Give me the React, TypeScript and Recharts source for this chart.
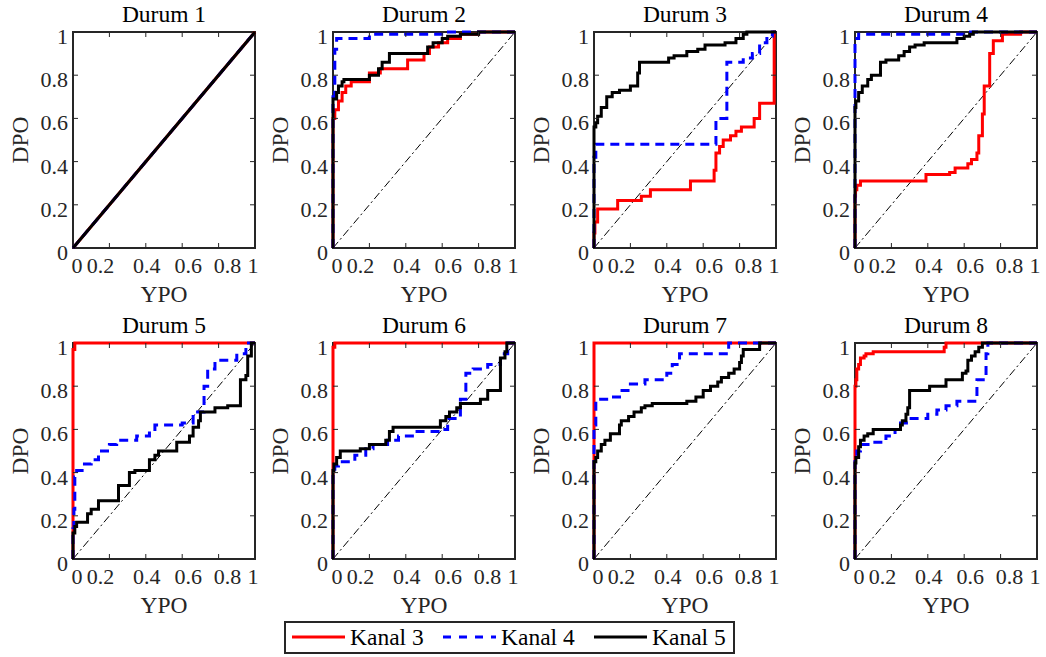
import React from "react";
import { LineChart, Line, XAxis, YAxis, ReferenceArea } from "recharts";

const ticks = [0, 0.2, 0.4, 0.6, 0.8, 1];
const tickLabels = ["0", "0.2", "0.4", "0.6", "0.8", "1"];
const durumTitles = ["Durum 1", "Durum 2", "Durum 3", "Durum 4", "Durum 5", "Durum 6", "Durum 7", "Durum 8"];
const kanalNames = ["Kanal 3", "Kanal 4", "Kanal 5"];
const diagonal = [[0, 0], [1, 1]];

// [YPO, DPO] points, each one is where the curve steps up
const durum1Kanal3 = [[0, 0], [1, 1]];
const durum1Kanal4 = [[0, 0], [1, 1]];
const durum1Kanal5 = [[0, 0], [1, 1]];

const durum2Kanal3 = [[0, 0], [0, 0.6], [0.01, 0.64], [0.03, 0.68], [0.05, 0.72], [0.07, 0.75], [0.1, 0.77], [0.2, 0.81], [0.26, 0.83], [0.41, 0.87], [0.5, 0.9], [0.53, 0.93], [0.58, 0.95], [0.63, 0.97], [0.7, 0.99], [0.8, 1], [1, 1]];
const durum2Kanal4 = [[0, 0], [0, 0.7], [0.01, 0.92], [0.02, 0.97], [0.2, 0.99], [0.62, 1], [1, 1]];
const durum2Kanal5 = [[0, 0], [0, 0.69], [0.02, 0.72], [0.03, 0.75], [0.05, 0.77], [0.06, 0.78], [0.2, 0.8], [0.25, 0.83], [0.27, 0.86], [0.31, 0.9], [0.52, 0.93], [0.55, 0.95], [0.6, 0.97], [0.63, 0.98], [0.7, 0.99], [0.8, 1], [1, 1]];

const durum3Kanal3 = [[0, 0], [0, 0.07], [0.005, 0.12], [0.02, 0.18], [0.13, 0.22], [0.26, 0.24], [0.31, 0.27], [0.53, 0.31], [0.66, 0.36], [0.67, 0.44], [0.69, 0.47], [0.71, 0.5], [0.75, 0.52], [0.78, 0.54], [0.81, 0.56], [0.88, 0.6], [0.91, 0.67], [0.99, 1], [1, 1]];
const durum3Kanal4 = [[0, 0], [0, 0.42], [0.01, 0.48], [0.67, 0.6], [0.73, 0.86], [0.82, 0.88], [0.87, 0.9], [0.91, 0.95], [0.95, 0.98], [0.98, 1], [1, 1]];
const durum3Kanal5 = [[0, 0], [0, 0.56], [0.01, 0.58], [0.02, 0.61], [0.04, 0.65], [0.07, 0.7], [0.1, 0.72], [0.14, 0.73], [0.2, 0.75], [0.24, 0.81], [0.25, 0.86], [0.41, 0.88], [0.44, 0.89], [0.51, 0.91], [0.57, 0.92], [0.61, 0.94], [0.72, 0.95], [0.78, 0.97], [0.82, 0.99], [0.84, 1], [1, 1]];

const durum4Kanal3 = [[0, 0], [0, 0.24], [0.003, 0.27], [0.01, 0.29], [0.03, 0.31], [0.39, 0.34], [0.52, 0.35], [0.55, 0.37], [0.62, 0.39], [0.64, 0.41], [0.67, 0.44], [0.68, 0.52], [0.7, 0.62], [0.71, 0.75], [0.74, 0.9], [0.76, 0.96], [0.81, 0.99], [0.91, 1], [1, 1]];
const durum4Kanal4 = [[0, 0], [0, 0.97], [0.02, 0.99], [0.62, 1], [1, 1]];
const durum4Kanal5 = [[0, 0], [0, 0.65], [0.005, 0.68], [0.02, 0.72], [0.04, 0.75], [0.07, 0.78], [0.09, 0.8], [0.14, 0.86], [0.17, 0.87], [0.24, 0.89], [0.27, 0.91], [0.3, 0.93], [0.33, 0.94], [0.38, 0.95], [0.56, 0.97], [0.6, 0.98], [0.63, 0.99], [0.65, 1], [1, 1]];

const durum5Kanal3 = [[0, 0], [0, 0.97], [0.01, 1], [1, 1]];
const durum5Kanal4 = [[0, 0], [0, 0.14], [0.005, 0.23], [0.01, 0.38], [0.02, 0.41], [0.05, 0.44], [0.1, 0.46], [0.14, 0.5], [0.2, 0.53], [0.24, 0.55], [0.35, 0.57], [0.42, 0.6], [0.45, 0.62], [0.6, 0.63], [0.66, 0.68], [0.72, 0.8], [0.74, 0.88], [0.78, 0.92], [0.9, 0.95], [0.95, 1], [1, 1]];
const durum5Kanal5 = [[0, 0], [0, 0.12], [0.01, 0.15], [0.02, 0.17], [0.08, 0.21], [0.1, 0.23], [0.14, 0.27], [0.25, 0.34], [0.31, 0.4], [0.34, 0.41], [0.42, 0.46], [0.45, 0.48], [0.47, 0.5], [0.57, 0.54], [0.64, 0.57], [0.66, 0.61], [0.69, 0.64], [0.7, 0.68], [0.78, 0.7], [0.85, 0.71], [0.92, 0.83], [0.95, 0.85], [0.96, 0.94], [0.98, 1], [1, 1]];

const durum6Kanal3 = [[0, 0], [0, 0.98], [0.01, 1], [1, 1]];
const durum6Kanal4 = [[0, 0], [0, 0.4], [0.01, 0.43], [0.03, 0.45], [0.12, 0.48], [0.18, 0.51], [0.22, 0.53], [0.3, 0.55], [0.36, 0.57], [0.45, 0.59], [0.6, 0.6], [0.63, 0.65], [0.7, 0.74], [0.73, 0.86], [0.77, 0.88], [0.85, 0.9], [0.92, 0.95], [0.96, 1], [1, 1]];
const durum6Kanal5 = [[0, 0], [0, 0.41], [0.005, 0.44], [0.02, 0.47], [0.04, 0.5], [0.15, 0.51], [0.2, 0.53], [0.29, 0.55], [0.31, 0.59], [0.33, 0.61], [0.59, 0.64], [0.62, 0.66], [0.64, 0.68], [0.68, 0.7], [0.7, 0.72], [0.81, 0.74], [0.85, 0.78], [0.92, 0.93], [0.945, 0.96], [0.955, 1], [1, 1]];

const durum7Kanal3 = [[0, 0], [0, 1], [1, 1]];
const durum7Kanal4 = [[0, 0], [0, 0.62], [0.01, 0.74], [0.08, 0.75], [0.14, 0.78], [0.2, 0.81], [0.28, 0.83], [0.4, 0.86], [0.43, 0.9], [0.47, 0.95], [0.74, 1], [1, 1]];
const durum7Kanal5 = [[0, 0], [0, 0.45], [0.01, 0.47], [0.02, 0.5], [0.04, 0.53], [0.06, 0.55], [0.09, 0.58], [0.14, 0.62], [0.15, 0.64], [0.19, 0.66], [0.22, 0.68], [0.26, 0.7], [0.28, 0.71], [0.32, 0.72], [0.51, 0.73], [0.56, 0.75], [0.6, 0.78], [0.64, 0.8], [0.68, 0.82], [0.7, 0.84], [0.74, 0.86], [0.77, 0.88], [0.8, 0.91], [0.81, 0.94], [0.82, 0.97], [0.91, 1], [1, 1]];

const durum8Kanal3 = [[0, 0], [0, 0.8], [0.005, 0.83], [0.01, 0.88], [0.02, 0.9], [0.03, 0.93], [0.05, 0.94], [0.06, 0.95], [0.1, 0.96], [0.49, 0.98], [0.5, 1], [1, 1]];
const durum8Kanal4 = [[0, 0], [0, 0.47], [0.01, 0.5], [0.03, 0.53], [0.1, 0.54], [0.17, 0.57], [0.22, 0.6], [0.25, 0.63], [0.3, 0.65], [0.4, 0.67], [0.45, 0.69], [0.5, 0.71], [0.56, 0.73], [0.67, 0.83], [0.72, 0.95], [0.73, 1], [1, 1]];
const durum8Kanal5 = [[0, 0], [0, 0.445], [0.005, 0.47], [0.02, 0.52], [0.03, 0.55], [0.05, 0.57], [0.07, 0.58], [0.1, 0.6], [0.25, 0.62], [0.26, 0.64], [0.28, 0.67], [0.29, 0.7], [0.3, 0.78], [0.41, 0.8], [0.5, 0.83], [0.59, 0.86], [0.61, 0.87], [0.62, 0.92], [0.64, 0.94], [0.66, 0.96], [0.68, 0.98], [0.7, 1], [1, 1]];

const panels = [
  { title: durumTitles[0], curve: "linear", kanal: [durum1Kanal3, durum1Kanal4, durum1Kanal5] },
  { title: durumTitles[1], curve: "stepAfter", kanal: [durum2Kanal3, durum2Kanal4, durum2Kanal5] },
  { title: durumTitles[2], curve: "stepAfter", kanal: [durum3Kanal3, durum3Kanal4, durum3Kanal5] },
  { title: durumTitles[3], curve: "stepAfter", kanal: [durum4Kanal3, durum4Kanal4, durum4Kanal5] },
  { title: durumTitles[4], curve: "stepAfter", kanal: [durum5Kanal3, durum5Kanal4, durum5Kanal5] },
  { title: durumTitles[5], curve: "stepAfter", kanal: [durum6Kanal3, durum6Kanal4, durum6Kanal5] },
  { title: durumTitles[6], curve: "stepAfter", kanal: [durum7Kanal3, durum7Kanal4, durum7Kanal5] },
  { title: durumTitles[7], curve: "stepAfter", kanal: [durum8Kanal3, durum8Kanal4, durum8Kanal5] },
];

const kanalStyle = [
  { color: "#ff0000", dash: undefined },
  { color: "#0000ff", dash: "9 6" },
  { color: "#000000", dash: undefined },
];

const AXIS = "#262626";
const PLOT_W = 182;
const PLOT_H = 216;
const PLOT_LEFT = 73;
const PLOT_TOP = 32;
const CHART_W = 260;
const CHART_H = 310;
const colLeft = [0, 260, 521, 782];
const rowTop = [0, 311];
// the x labels in the original sit a bit off their ticks
const xLabelShift = [4, -9, 1, 6, 9, -2];

const toPoints = (a: number[][]) => a.map(([x, y]) => ({ x, y }));

function XTick(props: any) {
  const { x, y, payload } = props;
  const i = ticks.indexOf(payload.value);
  const inner = payload.value > 0 && payload.value < 1;
  return (
    <g>
      {inner && <line x1={x} y1={y} x2={x} y2={y - 5} stroke={AXIS} strokeWidth={1} />}
      {inner && <line x1={x} y1={y - PLOT_H} x2={x} y2={y - PLOT_H + 5} stroke={AXIS} strokeWidth={1} />}
      <text x={x + xLabelShift[i]} y={y + 25} textAnchor="middle" fontSize={22} fill={AXIS}>
        {tickLabels[i]}
      </text>
    </g>
  );
}

function YTick(props: any) {
  const { x, y, payload } = props;
  const i = ticks.indexOf(payload.value);
  const inner = payload.value > 0 && payload.value < 1;
  return (
    <g>
      {inner && <line x1={x} y1={y} x2={x + 5} y2={y} stroke={AXIS} strokeWidth={1} />}
      {inner && <line x1={x + PLOT_W} y1={y} x2={x + PLOT_W - 5} y2={y} stroke={AXIS} strokeWidth={1} />}
      <text x={x - 5} y={y + 12} textAnchor="end" fontSize={22} fill={AXIS}>
        {tickLabels[i]}
      </text>
    </g>
  );
}

function RocPanel({ panel, left, top }: any) {
  return (
    <div style={{ position: "absolute", left, top }}>
      <LineChart width={CHART_W} height={CHART_H} margin={{ top: PLOT_TOP, right: 5, bottom: 0, left: 13 }}>
        <XAxis
          type="number"
          dataKey="x"
          domain={[0, 1]}
          ticks={ticks}
          interval={0}
          tickSize={0}
          tickMargin={0}
          tickLine={false}
          axisLine={false}
          height={CHART_H - PLOT_TOP - PLOT_H}
          tick={(p: any) => <XTick {...p} />}
          label={() => (
            <text x={PLOT_LEFT + PLOT_W / 2} y={PLOT_TOP + PLOT_H + 54} textAnchor="middle" fontSize={23.5} fill={AXIS}>
              YPO
            </text>
          )}
        />
        <YAxis
          type="number"
          domain={[0, 1]}
          ticks={ticks}
          interval={0}
          tickSize={0}
          tickMargin={0}
          tickLine={false}
          axisLine={false}
          width={60}
          tick={(p: any) => <YTick {...p} />}
          label={() => (
            <text
              x={28}
              y={PLOT_TOP + PLOT_H / 2}
              transform={`rotate(-90 28 ${PLOT_TOP + PLOT_H / 2})`}
              textAnchor="middle"
              fontSize={23.5}
              fill={AXIS}
            >
              DPO
            </text>
          )}
        />
        <ReferenceArea
          x1={0}
          x2={1}
          y1={0}
          y2={1}
          fill="none"
          fillOpacity={0}
          stroke={AXIS}
          strokeWidth={2}
          label={() => (
            <text x={PLOT_LEFT + PLOT_W / 2} y={PLOT_TOP - 10} textAnchor="middle" fontSize={23.5} fill="#000">
              {panel.title}
            </text>
          )}
        />
        <Line
          data={toPoints(diagonal)}
          dataKey="y"
          type="linear"
          stroke="#000"
          strokeWidth={1}
          strokeDasharray="8 3 2 3"
          dot={false}
          activeDot={false}
          isAnimationActive={false}
        />
        {panel.kanal.map((arr: number[][], i: number) => (
          <Line
            key={kanalNames[i]}
            data={toPoints(arr)}
            dataKey="y"
            name={kanalNames[i]}
            type={panel.curve}
            stroke={kanalStyle[i].color}
            strokeWidth={3}
            strokeDasharray={kanalStyle[i].dash}
            dot={false}
            activeDot={false}
            isAnimationActive={false}
          />
        ))}
      </LineChart>
    </div>
  );
}

function KanalLegend() {
  return (
    <svg width={451} height={33} style={{ position: "absolute", left: 284, top: 621 }}>
      <rect x={1} y={1} width={449} height={31} fill="#fff" stroke={AXIS} strokeWidth={2} />
      {kanalNames.map((name, i) => (
        <g key={name} transform={`translate(${8 + i * 151},0)`}>
          <line
            x1={0}
            x2={53}
            y1={16}
            y2={16}
            stroke={kanalStyle[i].color}
            strokeWidth={3}
            strokeDasharray={kanalStyle[i].dash ? "8 8" : undefined}
          />
          <text x={58} y={24} fontSize={23.5} fill="#000">
            {name}
          </text>
        </g>
      ))}
    </svg>
  );
}

export default function App() {
  return (
    <div
      style={{
        position: "absolute",
        left: 0,
        top: 0,
        width: 1046,
        height: 657,
        background: "#fff",
        fontFamily: "'Liberation Serif', 'Times New Roman', serif",
        overflow: "hidden",
      }}
    >
      {panels.map((panel, i) => (
        <RocPanel key={panel.title} panel={panel} left={colLeft[i % 4]} top={rowTop[Math.floor(i / 4)]} />
      ))}
      <KanalLegend />
    </div>
  );
}
